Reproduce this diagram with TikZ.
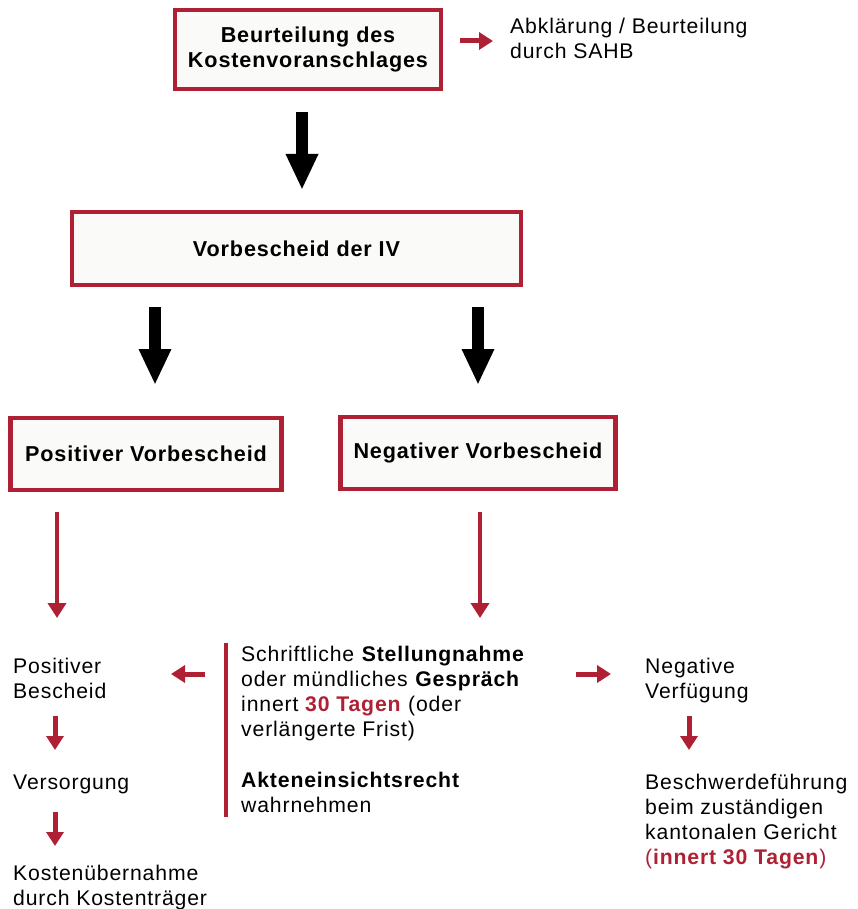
\documentclass[tikz,border=0pt]{standalone}
\usepackage{fontspec}
\setmainfont{Liberation Sans}[LetterSpace=4]
\usetikzlibrary{arrows.meta}
\definecolor{sred}{RGB}{176,32,52}
\definecolor{boxfill}{RGB}{250,250,248}
\begin{document}
\begin{tikzpicture}[x=1pt,y=-1pt,
  box/.style={draw=sred, line width=4.5pt, fill=boxfill, inner sep=0pt, font=\bfseries\fontsize{21.6}{25}\selectfont, align=center},
  txt/.style={anchor=base west, inner sep=0pt, align=left, font=\fontsize{21.2}{25}\selectfont},
  blk/.style={line width=12pt, -{Triangle[width=30pt,length=36pt]}},
  redlong/.style={sred, line width=4pt, -{Triangle[width=18pt,length=15pt]}},
  redshort/.style={sred, line width=5pt, -{Triangle[width=17pt,length=14pt]}},
  bar/.style={sred, line width=4pt},
]
\useasboundingbox (0,0) rectangle (858,909);
% boxes
\node[box, minimum width=266pt, minimum height=79pt] (b1) at (308,49.5) {Beurteilung des\\Kostenvoranschlages};
\node[box, minimum width=449pt, minimum height=73pt] (b2) at (296.5,248.5) {Vorbescheid der IV};
\node[box, minimum width=271pt, minimum height=72pt] (b3) at (146,454) {Positiver Vorbescheid};
\node[box, minimum width=275pt, minimum height=72pt] (b4) at (478,453) {Negativer Vorbescheid};
% texts (anchored at baseline of last line)
\node[txt] (sahb) at (510,59) {Abklärung / Beurteilung\\durch SAHB};
\node[txt] (posb) at (13,698) {Positiver\\Bescheid};
\node[txt] (vers) at (13,789) {Versorgung};
\node[txt] (kost) at (13,905) {Kostenübernahme\\durch Kostenträger};
\node[txt] (mid) at (241,812) {Schriftliche \textbf{Stellungnahme}\\oder mündliches \textbf{Gespräch}\\innert \textcolor{sred}{\textbf{30 Tagen}} (oder\\verlängerte Frist)\\[26pt]\textbf{Akteneinsichtsrecht}\\wahrnehmen};
\node[txt] (neg) at (645,698) {Negative\\Verfügung};
\node[txt] (besch) at (645,864) {Beschwerdeführung\\beim zuständigen\\kantonalen Gericht\\\textcolor{sred}{(\textbf{innert 30 Tagen})}};
% coordinates
\coordinate (a1s) at (302,112); \coordinate (a1e) at (302,190);
\coordinate (a2s) at (155,307); \coordinate (a2e) at (155,385);
\coordinate (a3s) at (478,307); \coordinate (a3e) at (478,385);
\coordinate (r1s) at (57,512); \coordinate (r1e) at (57,618);
\coordinate (r2s) at (480,512); \coordinate (r2e) at (480,618);
\coordinate (s0s) at (460,41); \coordinate (s0e) at (493,41);
\coordinate (sls) at (205,674); \coordinate (sle) at (171,674);
\coordinate (srs) at (576,674); \coordinate (sre) at (611,674);
\coordinate (d1s) at (55,716); \coordinate (d1e) at (55,750);
\coordinate (d2s) at (55,812); \coordinate (d2e) at (55,846);
\coordinate (d3s) at (689,716); \coordinate (d3e) at (689,750);
\coordinate (bars) at (226,643); \coordinate (bare) at (226,817);
% arrows
\draw[blk] (a1s) -- (a1e);
\draw[blk] (a2s) -- (a2e);
\draw[blk] (a3s) -- (a3e);
\draw[redlong] (r1s) -- (r1e);
\draw[redlong] (r2s) -- (r2e);
\draw[redshort] (s0s) -- (s0e);
\draw[redshort] (sls) -- (sle);
\draw[redshort] (srs) -- (sre);
\draw[redshort] (d1s) -- (d1e);
\draw[redshort] (d2s) -- (d2e);
\draw[redshort] (d3s) -- (d3e);
\draw[bar] (bars) -- (bare);
\end{tikzpicture}
\end{document}
